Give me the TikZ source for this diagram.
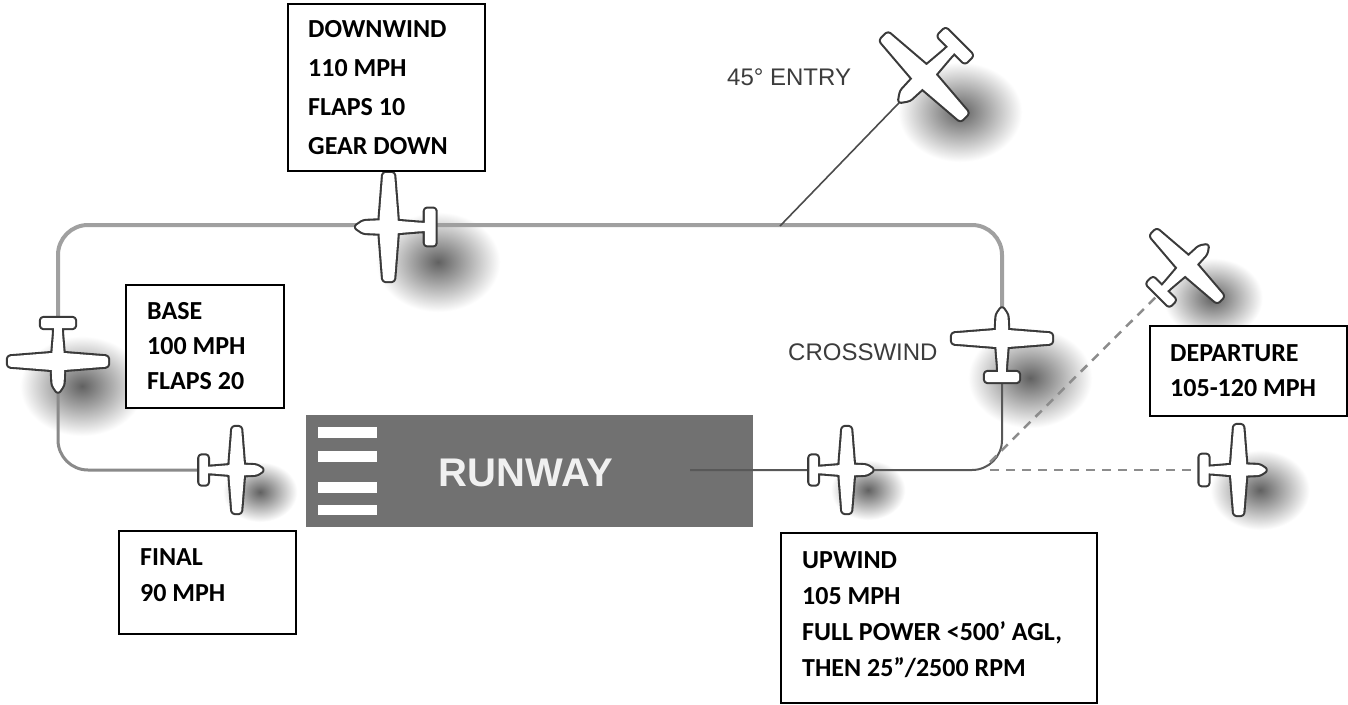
\documentclass[tikz,border=0pt]{standalone}
\usepackage{fontspec}
\newfontfamily\lblfont{Carlito}[BoldFont={Carlito Bold}]
\newfontfamily\graysans{Liberation Sans}
\newfontfamily\rwyfont{Liberation Sans}[BoldFont={Liberation Sans Bold}]
\definecolor{planeline}{HTML}{3A3A3A}
\definecolor{rwygray}{HTML}{717171}
\definecolor{circlight}{HTML}{A0A0A0}
\definecolor{circmid}{HTML}{8A8A8A}
\definecolor{circdark}{HTML}{585858}
\definecolor{dashgray}{HTML}{8C8C8C}
\definecolor{txtgray}{HTML}{3C3C3C}
\def\planeshape{(-44,-3.5) -- (-30,-4) -- (0,-6.5) -- (22,-5.5) -- (30,0) -- (22,5.5) -- (0,6.5) -- (-30,4) -- (-44,3.5) -- cycle
 (7,6) -- (3.5,50) -- (-6.5,50) -- (-10,6) -- (-10,-6) -- (-6.5,-50) -- (3.5,-50) -- (7,-6) -- cycle
 (-35,17) -- (-45,17) -- (-45,-17) -- (-35,-17) -- cycle}
\tikzset{
  plane/.pic={
    \path[draw=planeline, line width=4.2pt, rounded corners=2.5pt, line join=round] \planeshape;
    \path[fill=white, rounded corners=2.5pt] \planeshape;
  },
  planeshadow/.pic={
    \shade[inner color=black!62, outer color=white] (0,0) ellipse (62 and 50);
  },
  circA/.style={draw=circlight, line width=4pt},
  circB/.style={draw=circmid, line width=3pt},
  circC/.style={draw=circdark, line width=2pt},
  depdash/.style={draw=dashgray, line width=2.5pt, dash pattern=on 9pt off 7pt},
  entryline/.style={draw=black!70, line width=1.6pt},
  infobox/.style={draw=black, line width=2pt, fill=white, inner sep=0pt, anchor=north west},
  infotext/.style={inner sep=0pt, anchor=north west, align=left, text=black},
  graylabel/.style={inner sep=0pt, anchor=west, text=txtgray, font=\graysans\fontsize{24}{28}\selectfont},
}
\begin{document}
\begin{tikzpicture}[x=1pt, y=-1pt]
\useasboundingbox (0,0) rectangle (1348,704);
\fill[white] (0,0) rectangle (1348,704);

% plane positions
\coordinate (dw) at (387,227);
\coordinate (base) at (58,363);
\coordinate (fin) at (238,470);
\coordinate (up) at (848,470);
\coordinate (cw) at (1002,337);
\coordinate (entry) at (923,78);
\coordinate (depup) at (1188,265);
\coordinate (deplow) at (1240,470);

% shadows
\pic at (438,262) {planeshadow};
\pic at (82,386) {planeshadow};
\pic[scale=0.6] at (260,492) {planeshadow};
\pic[scale=0.6] at (868,490) {planeshadow};
\pic at (1030,378) {planeshadow};
\pic at (960,112) {planeshadow};
\pic[scale=0.8] at (1213,298) {planeshadow};
\pic[scale=0.8] at (1260,490) {planeshadow};

% runway
\node[fill=rwygray, minimum width=447pt, minimum height=112pt, inner sep=0pt, anchor=north west] (rwy) at (306,415) {};
\fill[white] (318,427) rectangle (377,438);
\fill[white] (318,451) rectangle (377,462);
\fill[white] (318,482) rectangle (377,493);
\fill[white] (318,505) rectangle (377,515);
\node[font=\rwyfont\bfseries\fontsize{40}{48}\selectfont, text=white!94!black, inner sep=0pt] (rwytext) at (526,473) {RUNWAY};

% circuit
\coordinate (tr) at (1002,225);
\coordinate (tl) at (58,225);
\coordinate (bl) at (58,470);
\coordinate (br) at (1002,470);
\coordinate (rwyend) at (690,470);
\draw[circA, rounded corners=30pt] (cw) -- (tr) -- (tl) -- (base);
\draw[circB, rounded corners=30pt] (base) -- (bl) -- (fin);
\draw[circC, rounded corners=30pt] (rwyend) -- (br) -- (cw);

% departures
\coordinate (dashstart) at (990,470);
\coordinate (depfork) at (990,462);
\draw[depdash] (dashstart) -- (deplow);
\draw[depdash] (depfork) -- (depup);

% 45 entry
\coordinate (entryjoin) at (780,226);
\draw[entryline] (entryjoin) -- (entry);

% planes
\pic[rotate=180, scale=1.08] at (dw) {plane};
\pic[rotate=-90] at (base) {plane};
\pic[scale=0.86] at (fin) {plane};
\pic[scale=0.86] at (up) {plane};
\pic[rotate=90] at (cw) {plane};
\pic[rotate=225, scale=1.14] at (entry) {plane};
\pic[rotate=45, scale=0.95] at (depup) {plane};
\pic[scale=0.9] at (deplow) {plane};

% gray labels
\node[graylabel] (entrytext) at (727,77) {45° ENTRY};
\node[graylabel] (cwtext) at (788,352) {CROSSWIND};

% info boxes
\node[infobox, minimum width=197pt, minimum height=167pt] (dwbox) at (287,3) {};
\node[infotext, font=\lblfont\bfseries\fontsize{26}{39}\selectfont] (dwtext) at (308,9.7) {\strut DOWNWIND\\110 MPH\\FLAPS 10\\GEAR DOWN};

\node[infobox, minimum width=158pt, minimum height=123pt] (basebox) at (125,284) {};
\node[infotext, font=\lblfont\bfseries\fontsize{26}{35}\selectfont] (basetext) at (147,294.5) {\strut BASE\\100 MPH\\FLAPS 20};

\node[infobox, minimum width=177pt, minimum height=103pt] (finbox) at (118,530) {};
\node[infotext, font=\lblfont\bfseries\fontsize{26}{36}\selectfont] (fintext) at (140,539.8) {\strut FINAL\\90 MPH};

\node[infobox, minimum width=316pt, minimum height=170pt] (upbox) at (780,532) {};
\node[infotext, font=\lblfont\bfseries\fontsize{26}{36}\selectfont] (uptext) at (802,542.8) {\strut UPWIND\\105 MPH\\FULL POWER <500’ AGL,\\THEN 25”/2500 RPM};

\node[infobox, minimum width=197pt, minimum height=90pt] (depbox) at (1149,325) {};
\node[infotext, font=\lblfont\bfseries\fontsize{26}{35}\selectfont] (deptext) at (1170,336.5) {\strut DEPARTURE\\105-120 MPH};
\end{tikzpicture}
\end{document}
